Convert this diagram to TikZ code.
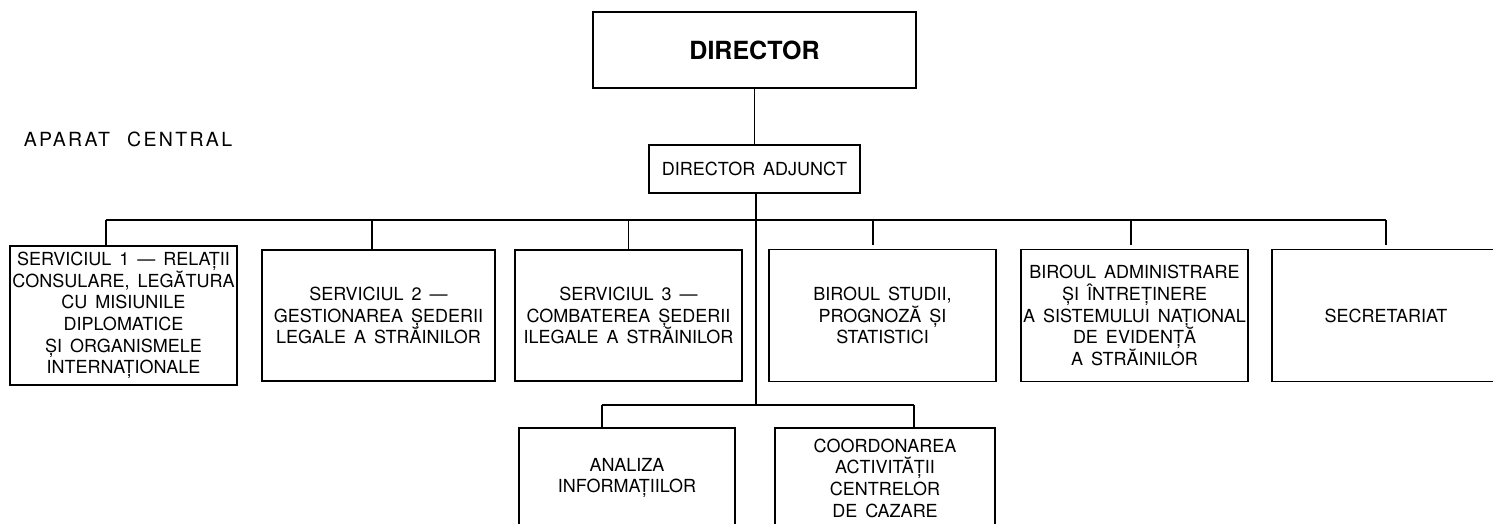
\documentclass[tikz,border=0pt]{standalone}
\usepackage{fontspec}
\setmainfont[WordSpace=1.6]{TeX Gyre Heros}
\newfontfamily\widefont[LetterSpace=12 ,WordSpace=2.2]{TeX Gyre Heros}
\usetikzlibrary {positioning}

\begin{document}
\begin{tikzpicture}[x=1pt ,y=-1pt ,node distance =119pt and 250pt ,on grid ,
line width =1.5pt ,
unit/.style ={ rectangle ,draw , align=center , inner sep=1pt ,
font=\fontsize{18}{21.7}\selectfont , minimum width =227pt , minimum height =132pt},
head/.style ={ unit , font=\fontsize{25}{30}\selectfont\bfseries ,
minimum width =323pt , minimum height =76pt},
tick/.style ={ shorten <=4pt}]
  \useasboundingbox (0,0) rectangle (1493,523);
  \node[anchor=base west ,inner sep=0pt ,font=\widefont\fontsize{19.5}{22}\selectfont]
    (title) at (23,146) {APARAT CENTRAL};
  \node[head](dir) at (754.5,50) {DIRECTOR};
  \node[unit](adj)[below = of dir, minimum width =211pt , minimum height =48pt]{DIRECTOR ADJUNCT};
  % first level
  \node[unit](s1) at (123.5,315.5) [minimum height =139pt]
    {SERVICIUL 1 — RELAȚII\\CONSULARE, LEGĂTURA\\CU MISIUNILE\\DIPLOMATICE\\ȘI ORGANISMELE\\INTERNAȚIONALE};
  \node[unit](s2)[right = 255pt of s1, minimum width =233pt , minimum height =131pt]
    {SERVICIUL 2 —\\GESTIONAREA ȘEDERII\\LEGALE A STRĂINILOR};
  \node[unit](s3)[right = 250pt of s2, minimum height =131pt]
    {SERVICIUL 3 —\\COMBATEREA ȘEDERII\\ILEGALE A STRĂINILOR};
  \node[unit](studii)[right = 254pt of s3]{BIROUL STUDII,\\PROGNOZĂ ȘI\\STATISTICI};
  \node[unit](admin)[right = 252pt of studii]
    {BIROUL ADMINISTRARE\\ȘI ÎNTREȚINERE\\A SISTEMULUI NAȚIONAL\\DE EVIDENȚĂ\\A STRĂINILOR};
  \node[unit](secr)[right = 251.5pt of admin, minimum width =228pt]{SECRETARIAT};
  % second level
  \node[unit](analiza) at (627,478) [minimum width =216pt , minimum height =100pt]
    {ANALIZA\\INFORMAȚIILOR};
  \node[unit](cazare)[right = 258pt of analiza, minimum width =220pt , minimum height =100pt]
    {COORDONAREA\\ACTIVITĂȚII\\CENTRELOR\\DE CAZARE};
  \coordinate (barL) at (106,220);
  \coordinate (barR) at (1386,220);
  \coordinate (hub) at (756,220);
  \coordinate (low) at (756,405);
  \coordinate (lowL) at (602,405);
  \coordinate (lowR) at (914,405);
  \draw (dir) -- (adj);
  \draw (adj.south -| hub) -- (low);
  \draw (barL) -- (barR);
  \draw (lowL) -- (lowR);
  \draw (barL) -- (s1.north -| barL);
  \draw ([xshift=-6.5pt]s2.north) -- ([xshift=-6.5pt]s2.north |- barL);
  \draw (s3.north) -- (s3.north |- barL);
  \draw[tick] ([xshift=-9.5pt]studii.north) -- ([xshift=-9.5pt]studii.north |- barL);
  \draw[tick] ([xshift=-3.5pt]admin.north) -- ([xshift=-3.5pt]admin.north |- barL);
  \draw[tick] (secr.north) -- (barR);
  \draw (lowL) -- (analiza.north -| lowL);
  \draw (lowR) -- (cazare.north -| lowR);
\end{tikzpicture}
\end{document}
